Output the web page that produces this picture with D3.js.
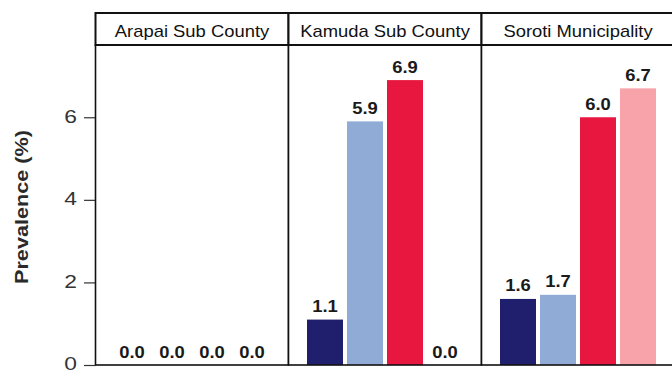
<!DOCTYPE html>
<html>
<head>
<meta charset="utf-8">
<script src="https://cdn.jsdelivr.net/npm/d3@7"></script>
<style>
  body { margin: 0; background: #fff; }
  svg { display: block; font-family: "Liberation Sans", Arial, sans-serif; }
</style>
</head>
<body>
<div id="chart"></div>
<script>
var panels = ["Arapai Sub County", "Kamuda Sub County", "Soroti Municipality"];
var series = ["s1", "s2", "s3", "s4"];
var colors = ["#1f1f6e", "#8fabd6", "#e8173f", "#f8a3aa"];
var arapai = [0.0, 0.0, 0.0, 0.0];
var kamuda = [1.1, 5.9, 6.9, 0.0];
var soroti = [1.6, 1.7, 6.0, 6.7];
var yTicks = [0, 2, 4, 6];

var values = [arapai, kamuda, soroti];
var w = 672, h = 374;
var sx = 1.2; // source picture is stretched horizontally

var svg = d3.select("#chart").append("svg")
    .attr("width", w)
    .attr("height", h);

var plotTop = 45, plotBottom = 365, stripTop = 13;

var fx = d3.scaleBand().domain(panels).range([95.5, 95.5 + 3 * 193]);
var x = d3.scaleBand().domain(series).range([16.5, 176.5])
    .paddingInner(0.1).paddingOuter(0.05);
var y = d3.scaleLinear().domain([0, 7.75]).range([plotBottom, plotTop]);
var color = d3.scaleOrdinal().domain(series).range(colors);

// y axis
var yAxis = svg.append("g")
    .attr("transform", "translate(95.5,0)")
    .call(d3.axisLeft(y).tickValues(yTicks).tickSize(11.5).tickPadding(7).tickFormat(d3.format("d")));
yAxis.select(".domain").remove();
yAxis.selectAll(".tick line").attr("stroke", "#333").attr("stroke-width", 1.2);
yAxis.selectAll(".tick text")
    .attr("font-size", 19)
    .attr("dy", "0.26em")
    .attr("fill", "#333")
    .attr("font-family", "Liberation Sans, Arial, sans-serif")
    .each(function () {
        var t = d3.select(this);
        t.attr("x", +t.attr("x") / sx).attr("transform", "scale(" + sx + ",1)");
    });

svg.append("text")
    .attr("transform", "translate(28," + ((plotTop + plotBottom) / 2 + 2) + ") rotate(-90)")
    .attr("text-anchor", "middle")
    .attr("font-size", 19)
    .attr("font-weight", "bold")
    .attr("fill", "#2a2a2a")
    .attr("textLength", 154)
    .attr("lengthAdjust", "spacingAndGlyphs")
    .text("Prevalence (%)");

var panel = svg.selectAll(".panel").data(panels).enter()
    .append("g")
    .attr("class", "panel")
    .attr("transform", function (d) { return "translate(" + fx(d) + ",0)"; });

panel.append("rect")
    .attr("x", 0).attr("y", plotTop)
    .attr("width", fx.bandwidth()).attr("height", plotBottom - plotTop)
    .attr("fill", "#fff");

panel.each(function (p, pi) {
    var g = d3.select(this);
    var vals = values[pi];
    g.selectAll(".bar").data(vals).enter()
        .append("rect")
        .attr("x", function (d, i) { return x(series[i]); })
        .attr("y", function (d) { return y(d); })
        .attr("width", x.bandwidth())
        .attr("height", function (d) { return y(0) - y(d); })
        .attr("fill", function (d, i) { return color(series[i]); });

    g.selectAll(".lab").data(vals).enter()
        .append("text")
        .attr("transform", function (d, i) {
            return "translate(" + (x(series[i]) + x.bandwidth() / 2) + "," + (y(d) - 7.5) + ") scale(1.15,1)";
        })
        .attr("text-anchor", "middle")
        .attr("font-size", 16)
        .attr("font-weight", "bold")
        .attr("fill", "#1a1a1a")
        .text(function (d) { return d3.format(".1f")(d); });
});

// panel borders
panel.append("rect")
    .attr("x", 0).attr("y", plotTop)
    .attr("width", fx.bandwidth()).attr("height", plotBottom - plotTop)
    .attr("fill", "none")
    .attr("stroke", "#111")
    .attr("stroke-width", 1.6);

// strips
panel.append("rect")
    .attr("x", 0).attr("y", stripTop)
    .attr("width", fx.bandwidth()).attr("height", plotTop - stripTop)
    .attr("fill", "#fff")
    .attr("stroke", "#111")
    .attr("stroke-width", 2);

panel.append("text")
    .attr("transform", "translate(" + (fx.bandwidth() / 2) + ",36.5) scale(1.15,1)")
    .attr("text-anchor", "middle")
    .attr("font-size", 16)
    .attr("fill", "#111")
    .text(function (d) { return d; });
</script>
</body>
</html>
